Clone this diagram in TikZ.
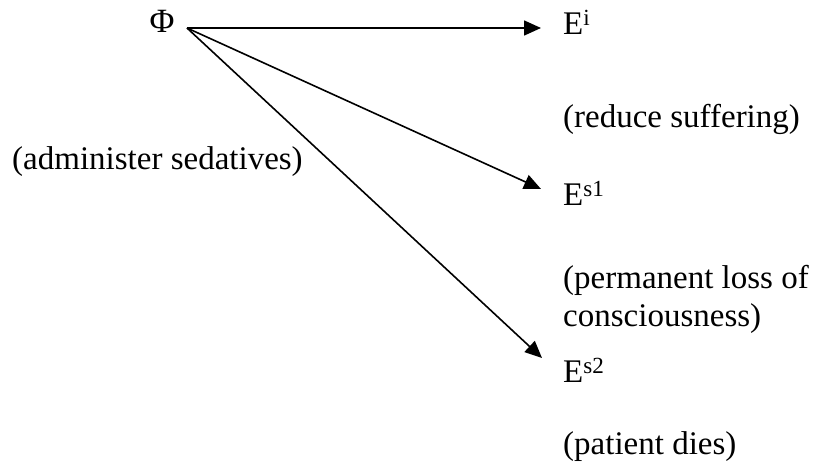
\documentclass[tikz,border=0pt]{standalone}
\usepackage{fontspec}
\setmainfont{Liberation Serif}
\usetikzlibrary{arrows.meta}
\begin{document}
\begin{tikzpicture}[x=1pt,y=-1pt,
  lbl/.style={inner sep=0pt,anchor=base west,font=\fontsize{33}{38}\selectfont},
  conn/.style={line width=1.6pt,-{Triangle[length=17pt,width=15pt]}}]
\useasboundingbox (0,0) rectangle (823,470);
\node[inner sep=0pt,anchor=base,font=\fontsize{34}{38}\selectfont] (phi) at (162,33) {Φ};
\coordinate (src) at (187,28);
\node[lbl] (ei) at (563,35) {E\textsuperscript{i}};
\node[lbl] (es1) at (563,206) {E\textsuperscript{s1}};
\node[lbl] (es2) at (563,383) {E\textsuperscript{s2}};
\node[lbl] (red) at (563,128) {(reduce suffering)};
\node[lbl] (adm) at (12,170) {(administer sedatives)};
\node[lbl] (perm) at (563,289) {(permanent loss of};
\node[lbl] (cons) at (563,327) {consciousness)};
\node[lbl] (dies) at (563,455) {(patient dies)};
\coordinate (ti) at (541,28);
\coordinate (ts1) at (541,189);
\coordinate (ts2) at (542,358);
\draw[conn] (src) -- (ti);
\draw[conn] (src) -- (ts1);
\draw[conn] (src) -- (ts2);
\end{tikzpicture}
\end{document}
